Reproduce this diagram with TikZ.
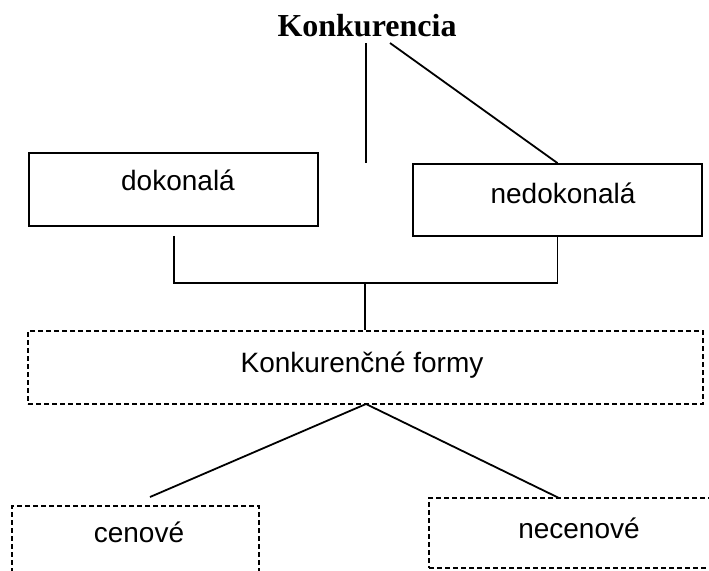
\documentclass[tikz,border=0pt]{standalone}
\usepackage{fontspec}
\setmainfont{Liberation Serif}
\setsansfont{Liberation Sans}
\usetikzlibrary{calc}
\begin{document}
\begin{tikzpicture}[x=1pt,y=-1pt,
  txt/.style={font=\sffamily\fontsize{28}{32}\selectfont, inner sep=0pt, anchor=base},
  box/.style={draw, line width=1.8pt, inner sep=0pt},
  dbox/.style={draw, line width=1.4pt, dash pattern=on 5pt off 3pt, inner sep=0pt},
  link/.style={line width=1.8pt}]
\useasboundingbox (0,0) rectangle (709,570);

% heading
\node[font=\bfseries\fontsize{32}{36}\selectfont, inner sep=0pt] (title) at (367,26) {Konkurencia};

% market types
\node[box, minimum width=289pt, minimum height=73pt] (dok) at (173.5,189.5) {};
\node[txt] (dokT) at (178,190) {dokonalá};
\node[box, minimum width=289pt, minimum height=72pt] (ned) at (557.5,200) {};
\node[txt] (nedT) at (563,203) {nedokonalá};

% forms of competition
\node[dbox, minimum width=675pt, minimum height=73pt] (forms) at (365.5,367.5) {};
\node[txt] (formsT) at (362,372) {Konkurenčné formy};

% price / non-price forms (running past the lower edge)
\node[dbox, minimum width=247pt, minimum height=84pt] (cen) at (135.5,548) {};
\node[txt] (cenT) at (139,542) {cenové};
\node[dbox, minimum width=283pt, minimum height=70pt] (nec) at (570.5,533) {};
\node[txt] (necT) at (579,538) {necenové};

% free ends and junction points
\coordinate (tv) at (366,163);
\coordinate (jn) at (365,283);
\coordinate (apex) at (366,404);
\coordinate (cenTop) at (150,497);
\coordinate (necTop) at (559,498);

% connectors from the heading
\draw[link] (366,43) -- (tv);
\draw[link] (390,43) -- (ned.north);

% junction below the two boxes
\draw[link] ($(dok.south -| 174,0)+(0,9)$) |- (jn) -| (ned.south);
\draw[link] (jn) -- (forms.north -| jn);

% split into price and non-price forms
\draw[link] (apex) -- (cenTop);
\draw[link] (apex) -- (necTop);
\end{tikzpicture}
\end{document}
